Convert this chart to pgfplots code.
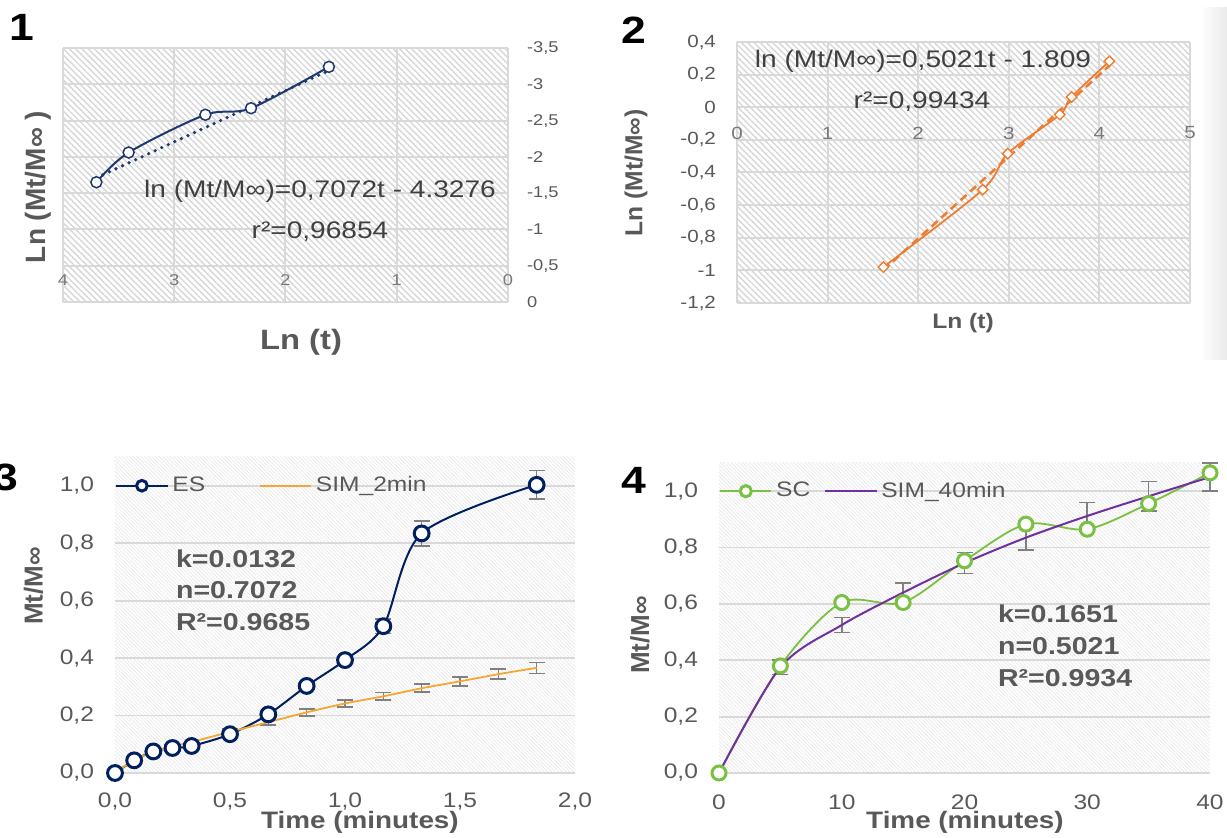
\documentclass[border=0pt]{standalone}
\usepackage{fontspec}
\setmainfont{Liberation Sans}[FakeStretch=1.17]
\newfontfamily\rotfont{Liberation Sans}
\usepackage{pgfplots}
\pgfplotsset{compat=1.18}
\usetikzlibrary{patterns.meta}
\definecolor{navyA}{RGB}{31,56,110}
\definecolor{navyC}{RGB}{0,32,96}
\definecolor{orangeB}{RGB}{237,125,49}
\definecolor{orangeC}{RGB}{246,166,52}
\definecolor{greenD}{RGB}{122,193,66}
\definecolor{purpleD}{RGB}{112,48,160}
\definecolor{errgray}{RGB}{128,128,128}
\definecolor{textgray}{RGB}{89,89,89}
\definecolor{eqgray}{RGB}{64,64,64}
\definecolor{lightlab}{RGB}{120,120,120}
\definecolor{gridgray}{RGB}{217,217,217}
\definecolor{hatchA}{RGB}{214,214,214}
\definecolor{hatchB}{RGB}{234,234,234}
\pgfplotsset{
  base/.style={
    scale only axis, anchor=south west,
    axis line style={draw=none},
    major tick length=0pt,
    tick style={draw=none},
    /pgf/number format/use comma,
    /pgf/number format/1000 sep={},
    /pgf/number format/assume math mode=true,
  },
  errstyle/.style={forget plot, draw=none, mark=none,
    error bars/.cd, y dir=both, y explicit,
    error bar style={draw=errgray, line width=0.8pt, solid},
    error mark options={rotate=90, draw=errgray, mark size=4pt, line width=0.8pt}},
}
\begin{document}
\begin{tikzpicture}
\path[use as bounding box] (0pt,0pt) rectangle (613.5pt,419pt);
\clip (0pt,0pt) rectangle (613.5pt,419pt);
\shade[left color=white, right color=black!8] (600pt,239pt) rectangle (613.5pt,415pt);

% ---------------- Panel 1
\begin{axis}[base, at={(31.5pt,268pt)}, width=222.5pt, height=127pt,
  xmin=0, xmax=4, ymin=-3.5, ymax=0, x dir=reverse, y dir=reverse,
  xtick={0,1,2,3,4}, ytick={-3.5,-3,-2.5,-2,-1.5,-1,-0.5,0},
  grid=major, major grid style={draw=gridgray, line width=1pt},
  axis background/.style={pattern={Lines[angle=-45,distance=2.2pt,line width=0.7pt]}, pattern color=hatchA},
  ticklabel style={font=\fontsize{7.8}{9}\selectfont},
  xticklabel style={anchor=center, yshift=11pt, text=lightlab},
  yticklabel pos=right,
  yticklabel style={anchor=west, xshift=6pt, text=textgray},
]
\addplot[navyA, line width=1.8pt, line cap=round, dash pattern=on 0pt off 3.6pt]
  coordinates {(3.70,-1.711) (1.61,-3.189)};
\addplot[navyA, line width=1pt, smooth, mark=*, mark size=2.75pt,
  mark options={fill=white, draw=navyA, line width=0.75pt, solid}]
  coordinates {(3.70,-1.65) (3.41,-2.06) (2.72,-2.58) (2.31,-2.67) (1.61,-3.24)};
\end{axis}

% ---------------- Panel 2
\begin{axis}[base, at={(368.5pt,267.5pt)}, width=226.5pt, height=130.5pt,
  xmin=0, xmax=5, ymin=-1.2, ymax=0.4,
  xtick={0,1,2,3,4,5}, ytick={-1.2,-1,-0.8,-0.6,-0.4,-0.2,0,0.2,0.4},
  grid=major, major grid style={draw=gridgray, line width=1pt},
  axis background/.style={pattern={Lines[angle=-45,distance=2.2pt,line width=0.7pt]}, pattern color=hatchA},
  ticklabel style={font=\fontsize{8.8}{10}\selectfont},
  xticklabel style={anchor=center, yshift=85pt, text=lightlab},
  yticklabel style={anchor=east, xshift=-7pt, text=textgray},
]
\addplot[orangeB, line width=1.3pt, dash pattern=on 4pt off 2.5pt]
  coordinates {(1.616,-0.998) (4.111,0.255)};
\addplot[orangeB, line width=0.9pt, smooth, mark=square*, mark size=1.85pt,
  mark options={rotate=45, fill=white, draw=orangeB, line width=0.7pt, solid}]
  coordinates {(1.616,-0.98) (2.713,-0.505) (2.988,-0.284) (3.563,-0.045) (3.693,0.063) (4.111,0.282)};
\end{axis}

% ---------------- Panel 3
\begin{axis}[base, at={(57.5pt,32.5pt)}, width=230pt, height=158pt,
  xmin=0, xmax=2, ymin=0, ymax=1.1, clip=false,
  xtick={0,0.5,1,1.5,2}, ytick={0,0.2,0.4,0.6,0.8,1},
  ymajorgrids, major grid style={draw=gridgray, line width=0.9pt},
  axis background/.style={pattern={Lines[angle=-45,distance=1.3pt,line width=0.4pt]}, pattern color=hatchB},
  ticklabel style={font=\fontsize{10.5}{12}\selectfont, text=textgray,
    /pgf/number format/fixed, /pgf/number format/fixed zerofill, /pgf/number format/precision=1},
  xticklabel style={anchor=center, yshift=-14.5pt},
  yticklabel style={anchor=east, xshift=-7pt},
  legend style={at={(axis cs:0,1)}, anchor=west, draw=none, fill=none,
    font=\fontsize{10.5}{12}\selectfont, text=textgray, legend columns=2,
    inner xsep=0pt, inner ysep=0pt,
    /tikz/every even column/.append style={column sep=25pt}},
  legend image code/.code={\draw[mark repeat=2,mark phase=2,#1, every mark/.append style={scale=0.72}] plot coordinates {(0pt,0pt) (12.75pt,0pt) (25.5pt,0pt)};},
]
\addplot[errstyle] table[x=x, y=y, y error=e] {
x y e
1.1667 0.511 0.025
1.3333 0.834 0.044
1.8333 1.003 0.050
};
\addplot[errstyle] table[x=x, y=y, y error=e] {
x y e
0.5 0.143 0.010
0.6667 0.177 0.010
0.8333 0.211 0.012
1.0 0.242 0.012
1.1667 0.267 0.013
1.3333 0.295 0.014
1.5 0.319 0.016
1.6667 0.344 0.017
1.8333 0.366 0.019
};
\addplot[navyC, line width=1pt, smooth, mark=*, mark size=3.7pt,
  mark options={fill=white, draw=navyC, line width=1.5pt, solid}] table[x=x, y=y] {
x y
0 0
0.0833 0.044
0.1667 0.075
0.25 0.087
0.3333 0.094
0.5 0.135
0.6667 0.204
0.8333 0.303
1.0 0.393
1.1667 0.511
1.3333 0.834
1.8333 1.003
};
\addlegendentry{ES}
\addplot[orangeC, line width=0.9pt, smooth, mark=none] table[x=x, y=y] {
x y
0 0
0.0833 0.045
0.1667 0.073
0.25 0.092
0.3333 0.108
0.5 0.143
0.6667 0.177
0.8333 0.211
1.0 0.242
1.1667 0.267
1.3333 0.295
1.5 0.319
1.6667 0.344
1.8333 0.366
};
\addlegendentry{SIM\_2min}
\end{axis}

% ---------------- Panel 4
\begin{axis}[base, at={(359.5pt,32.5pt)}, width=245.5pt, height=155pt,
  xmin=0, xmax=40, ymin=0, ymax=1.1, clip=false,
  xtick={0,10,20,30,40}, ytick={0,0.2,0.4,0.6,0.8,1},
  ymajorgrids, major grid style={draw=gridgray, line width=0.9pt},
  axis background/.style={pattern={Lines[angle=-45,distance=1.3pt,line width=0.4pt]}, pattern color=hatchB},
  ticklabel style={font=\fontsize{10.5}{12}\selectfont, text=textgray},
  yticklabel style={anchor=east, xshift=-7pt,
    /pgf/number format/fixed, /pgf/number format/fixed zerofill, /pgf/number format/precision=1},
  xticklabel style={anchor=center, yshift=-14.5pt},
  legend style={at={(axis cs:0,1)}, anchor=west, draw=none, fill=none,
    font=\fontsize{10.5}{12}\selectfont, text=textgray, legend columns=2,
    inner xsep=0pt, inner ysep=0pt,
    /tikz/every even column/.append style={column sep=5pt}},
  legend image code/.code={\draw[mark repeat=2,mark phase=2,#1, every mark/.append style={scale=0.8}] plot coordinates {(0pt,0pt) (12.75pt,0pt) (25.5pt,0pt)};},
]
\addplot[errstyle] table[x=x, y=y, y error=e] {
x y e
5 0.375 0.025
10 0.525 0.027
15 0.640 0.035
20 0.745 0.037
25 0.835 0.043
30 0.912 0.048
35 0.982 0.053
40 1.050 0.050
};
\addplot[greenD, line width=0.9pt, smooth, mark=*, mark size=3.5pt,
  mark options={fill=white, draw=greenD, line width=1.5pt, solid}] table[x=x, y=y] {
x y
0 0
5 0.380
10 0.605
15 0.605
20 0.753
25 0.883
30 0.865
35 0.956
40 1.065
};
\addlegendentry{SC}
\addplot[purpleD, line width=1pt, smooth, mark=none] table[x=x, y=y] {
x y
0 0
5 0.375
10 0.525
15 0.640
20 0.745
25 0.835
30 0.912
35 0.982
40 1.050
};
\addlegendentry{SIM\_40min}
\end{axis}

% ---------------- Texts
\node[font=\bfseries\fontsize{19}{20}\selectfont] at (11pt,405.5pt) {1};
\node[font=\bfseries\fontsize{19}{20}\selectfont] at (317pt,404pt) {2};
\node[font=\bfseries\fontsize{19}{20}\selectfont] at (3pt,180.5pt) {3};
\node[font=\bfseries\fontsize{19}{20}\selectfont] at (317pt,179pt) {4};

\node[font=\fontsize{12}{14}\selectfont, text=eqgray] at (160pt,323.5pt) {ln (Mt/M∞)=0,7072t - 4.3276};
\node[font=\fontsize{12}{14}\selectfont, text=eqgray] at (160pt,303pt) {r²=0,96854};
\node[font=\bfseries\fontsize{14}{16}\selectfont, text=textgray] at (150.5pt,248pt) {Ln (t)};
\node[rotate=90, font=\rotfont\bfseries\fontsize{14}{16}\selectfont, text=textgray] at (19pt,325.5pt) {Ln (Mt/M∞ )};

\node[font=\fontsize{12}{14}\selectfont, text=eqgray] at (461.5pt,388.5pt) {ln (Mt/M∞)=0,5021t - 1.809};
\node[font=\fontsize{12}{14}\selectfont, text=eqgray] at (461pt,368pt) {r²=0,99434};
\node[font=\bfseries\fontsize{10.5}{12}\selectfont, text=textgray] at (481.5pt,257.5pt) {Ln (t)};
\node[rotate=90, font=\rotfont\bfseries\fontsize{12.3}{14}\selectfont, text=textgray] at (318pt,332.5pt) {Ln (Mt/M∞)};

\node[anchor=west, font=\bfseries\fontsize{12.2}{14}\selectfont, text=textgray] at (84.5pt,139.5pt) {k=0.0132};
\node[anchor=west, font=\bfseries\fontsize{12.2}{14}\selectfont, text=textgray] at (84.5pt,124pt) {n=0.7072};
\node[anchor=west, font=\bfseries\fontsize{12.2}{14}\selectfont, text=textgray] at (84.5pt,108pt) {R²=0.9685};
\node[font=\bfseries\fontsize{11.9}{14}\selectfont, text=textgray] at (180pt,8pt) {Time (minutes)};
\node[rotate=90, font=\rotfont\bfseries\fontsize{13}{15}\selectfont, text=textgray] at (16.75pt,126pt) {Mt/M∞};

\node[anchor=west, font=\bfseries\fontsize{12.2}{14}\selectfont, text=textgray] at (495.5pt,112pt) {k=0.1651};
\node[anchor=west, font=\bfseries\fontsize{12.2}{14}\selectfont, text=textgray] at (495.5pt,96pt) {n=0.5021};
\node[anchor=west, font=\bfseries\fontsize{12.2}{14}\selectfont, text=textgray] at (495.5pt,80pt) {R²=0.9934};
\node[font=\bfseries\fontsize{11.9}{14}\selectfont, text=textgray] at (482.5pt,8pt) {Time (minutes)};
\node[rotate=90, font=\rotfont\bfseries\fontsize{13}{15}\selectfont, text=textgray] at (320pt,101.5pt) {Mt/M∞};
\end{tikzpicture}
\end{document}
